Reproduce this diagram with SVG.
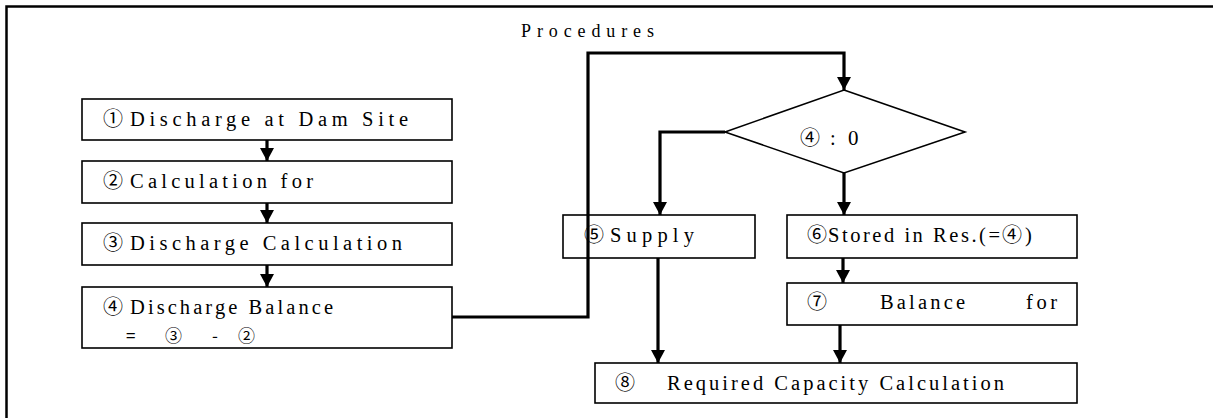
<svg xmlns="http://www.w3.org/2000/svg" width="1213" height="418" viewBox="0 0 1213 418">
<defs>
<style>
.box{fill:#fff;stroke:#000;stroke-width:1.6}
.t{font-family:"Liberation Serif","DejaVu Serif",serif;font-size:20.5px;fill:#000}
.c{font-family:"Noto Sans CJK JP","DejaVu Sans",sans-serif;font-size:20px;fill:#000}
.cs{font-family:"Noto Sans CJK JP","DejaVu Sans",sans-serif;font-size:17px;fill:#000}
.ln{fill:none;stroke:#000;stroke-width:3.2}
.frame{fill:none;stroke:#000;stroke-width:2.5}
</style>
<marker id="ah" markerUnits="userSpaceOnUse" markerWidth="14" markerHeight="14" refX="13" refY="7" orient="auto">
<path d="M0,0 L13,7 L0,14 z" fill="#000"/>
</marker>
</defs>
<rect width="1213" height="418" fill="#fff"/>
<path class="frame" d="M6.5,418 V6.5 H1213"/>
<text class="t" x="521" y="37" textLength="133" lengthAdjust="spacing" style="font-size:18px">Procedures</text>

<g id="n1">
<rect class="box" x="82" y="99" width="370" height="41"/>
<text class="c" x="103" y="126">①</text>
<text class="t" x="130" y="126" textLength="278" lengthAdjust="spacing">Discharge at Dam Site</text>
</g>
<g id="n2">
<rect class="box" x="82" y="161" width="370" height="42"/>
<text class="c" x="103" y="188">②</text>
<text class="t" x="130" y="188" textLength="183" lengthAdjust="spacing">Calculation for</text>
</g>
<g id="n3">
<rect class="box" x="82" y="223" width="370" height="42"/>
<text class="c" x="103" y="250">③</text>
<text class="t" x="130" y="250" textLength="272" lengthAdjust="spacing">Discharge Calculation</text>
</g>
<g id="n4">
<rect class="box" x="82" y="287" width="370" height="61"/>
<text class="c" x="103" y="314">④</text>
<text class="t" x="130" y="314" textLength="203" lengthAdjust="spacing">Discharge Balance</text>
<text class="cs" x="126" y="342">=</text>
<text class="cs" x="165" y="342">③</text>
<text class="cs" x="212" y="342">-</text>
<text class="cs" x="238" y="342">②</text>
</g>
<g id="n_decision">
<polygon class="box" points="844,90 965,132 844,173 725,132"/>
<text class="c" x="800" y="145">④</text>
<text class="t" x="830" y="145">:</text>
<text class="t" x="848" y="145" style="font-size:21px">0</text>
</g>
<g id="n5">
<rect class="box" x="563" y="215" width="192" height="43"/>
<text class="c" x="584" y="242">⑤</text>
<text class="t" x="610" y="242" textLength="84" lengthAdjust="spacing">Supply</text>
</g>
<g id="n6">
<rect class="box" x="787" y="215" width="290" height="43"/>
<text class="c" x="807" y="242">⑥</text>
<text class="t" x="828" y="242" textLength="172" lengthAdjust="spacing">Stored in Res.(=</text>
<text class="c" x="1002" y="242">④</text>
<text class="t" x="1025" y="242">)</text>
</g>
<g id="n7">
<rect class="box" x="787" y="283" width="290" height="42"/>
<text class="c" x="807" y="309">⑦</text>
<text class="t" x="880" y="309" textLength="85" lengthAdjust="spacing">Balance</text>
<text class="t" x="1026" y="309" textLength="31" lengthAdjust="spacing">for</text>
</g>
<g id="n8">
<rect class="box" x="595" y="363" width="482" height="40"/>
<text class="c" x="615" y="390">⑧</text>
<text class="t" x="667" y="390" textLength="337" lengthAdjust="spacing">Required Capacity Calculation</text>
</g>

<g id="connectors">
<path class="ln" d="M267,140 V161" marker-end="url(#ah)"/>
<path class="ln" d="M267,203 V223" marker-end="url(#ah)"/>
<path class="ln" d="M267,265 V287" marker-end="url(#ah)"/>
<path class="ln" d="M452,317 H588 V53 H844 V90" marker-end="url(#ah)"/>
<path class="ln" d="M725,132 H660 V215" marker-end="url(#ah)"/>
<path class="ln" d="M844,173 V215" marker-end="url(#ah)"/>
<path class="ln" d="M843,258 V283" marker-end="url(#ah)"/>
<path class="ln" d="M658,258 V363" marker-end="url(#ah)"/>
<path class="ln" d="M840,325 V363" marker-end="url(#ah)"/>
</g>
</svg>
